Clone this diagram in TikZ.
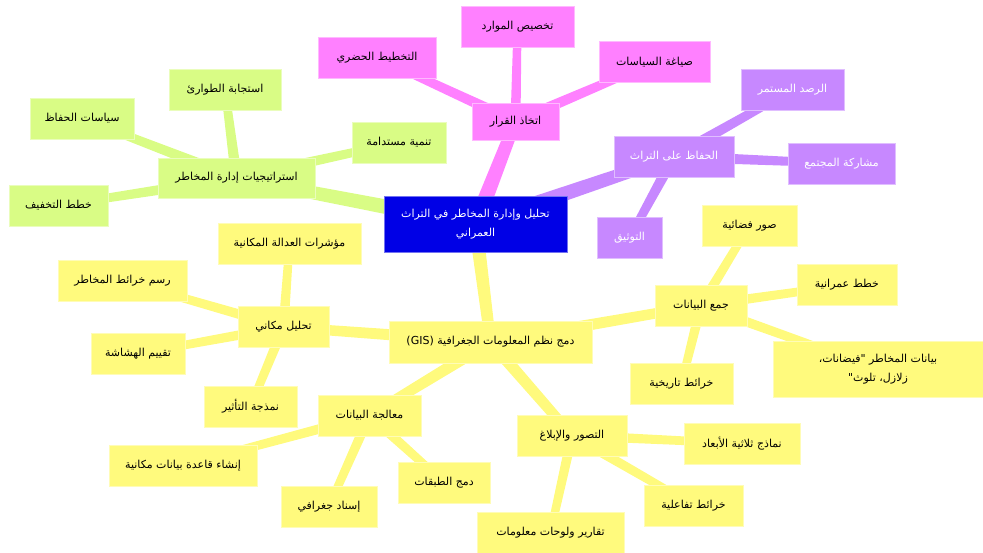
\documentclass[tikz,border=0pt]{standalone}
\usepackage{fontspec}
\newfontfamily\arabicfont[Script=Arabic]{DejaVu Sans}
\TeXXeTstate=1
\usetikzlibrary{calc, backgrounds}

\definecolor{rootblue}{HTML}{0000E6}
\definecolor{decpink}{HTML}{FF80FF}
\definecolor{conspurple}{HTML}{C788FF}
\definecolor{stratgreen}{HTML}{D9FC85}
\definecolor{gisyellow}{HTML}{FFFA7D}

\newcommand{\ar}[1]{\beginR #1\endR}
% tapered band: colour, from, to, half width at start, half width at end
\newcommand{\branch}[5]{%
  \fill[#1] ($(#2.center)!#4!90:(#3.center)$) -- ($(#3.center)!#5!-90:(#2.center)$)
    -- ($(#3.center)!#5!90:(#2.center)$) -- ($(#2.center)!#4!-90:(#3.center)$) -- cycle;}

\begin{document}
\begin{tikzpicture}[
  x=1pt, y=-1pt,
  box/.style={rectangle, draw=#1!55!white, fill=#1, line width=0.8pt, minimum height=41pt,
    inner sep=2pt, font=\arabicfont\fontsize{11}{18.5}\selectfont, align=center},
  lightbox/.style={box=#1, text=white}
]
  \useasboundingbox (0,0) rectangle (983,553);

  % Root
  \node[lightbox=rootblue, minimum width=183pt, minimum height=56pt] (root) at (475.5,224)
    {\ar{تحليل وإدارة المخاطر في التراث}\\\ar{العمراني}};

  % Decision making
  \node[box=decpink, minimum width=87pt, minimum height=37pt] (dec) at (515.5,121.5) {\ar{اتخاذ القرار}};
  \node[box=decpink, minimum width=113pt] (res) at (517.5,26.5) {\ar{تخصيص الموارد}};
  \node[box=decpink, minimum width=118pt] (urb) at (377,57.5) {\ar{التخطيط الحضري}};
  \node[box=decpink, minimum width=111pt] (pol) at (654.5,62) {\ar{صياغة السياسات}};

  % Heritage conservation
  \node[lightbox=conspurple, minimum width=120pt] (cons) at (674,156.5) {\ar{الحفاظ على التراث}};
  \node[lightbox=conspurple, minimum width=103pt] (mon) at (792.5,89.5) {\ar{الرصد المستمر}};
  \node[lightbox=conspurple, minimum width=107pt] (com) at (841.5,163.5) {\ar{مشاركة المجتمع}};
  \node[lightbox=conspurple, minimum width=65pt] (doc) at (629.5,238) {\ar{التوثيق}};

  % Risk management strategies
  \node[box=stratgreen, minimum width=157pt, minimum height=40pt] (strat) at (236.5,178) {\ar{استراتيجيات إدارة المخاطر}};
  \node[box=stratgreen, minimum width=112pt] (emer) at (225,89.5) {\ar{استجابة الطوارئ}};
  \node[box=stratgreen, minimum width=104pt] (cpol) at (82,118.5) {\ar{سياسات الحفاظ}};
  \node[box=stratgreen, minimum width=94pt] (sust) at (399,142.5) {\ar{تنمية مستدامة}};
  \node[box=stratgreen, minimum width=99pt] (miti) at (58.5,205.5) {\ar{خطط التخفيف}};

  % GIS integration
  \node[box=gisyellow, minimum width=203pt, minimum height=42pt] (gis) at (490.5,342)
    {\ar{دمج نظم المعلومات الجغرافية \beginL(GIS)\endL}};

  \node[box=gisyellow, minimum width=92pt] (coll) at (701,305.5) {\ar{جمع البيانات}};
  \node[box=gisyellow, minimum width=95pt] (sat) at (749.5,225.5) {\ar{صور فضائية}};
  \node[box=gisyellow, minimum width=100pt] (plan) at (847,285) {\ar{خطط عمرانية}};
  \node[box=gisyellow, minimum width=210pt, minimum height=56pt] (hazd) at (878,369)
    {\ar{بيانات المخاطر "فيضانات،}\\\ar{زلازل، تلوث"}};
  \node[box=gisyellow, minimum width=103pt] (hist) at (681.5,383.5) {\ar{خرائط تاريخية}};

  \node[box=gisyellow, minimum width=91pt] (spat) at (283.5,327) {\ar{تحليل مكاني}};
  \node[box=gisyellow, minimum width=143pt] (just) at (289.5,243.5) {\ar{مؤشرات العدالة المكانية}};
  \node[box=gisyellow, minimum width=129pt] (riskmap) at (122.5,280.5) {\ar{رسم خرائط المخاطر}};
  \node[box=gisyellow, minimum width=94pt] (vuln) at (138,353.5) {\ar{تقييم الهشاشة}};
  \node[box=gisyellow, minimum width=93pt] (impact) at (250.5,406.5) {\ar{نمذجة التأثير}};

  \node[box=gisyellow, minimum width=103pt] (proc) at (369.5,415.5) {\ar{معالجة البيانات}};
  \node[box=gisyellow, minimum width=148pt] (sdb) at (183,465.5) {\ar{إنشاء قاعدة بيانات مكانية}};
  \node[box=gisyellow, minimum width=96pt] (geo) at (329,506.5) {\ar{إسناد جغرافي}};
  \node[box=gisyellow, minimum width=92pt] (layer) at (444,482.5) {\ar{دمج الطبقات}};

  \node[box=gisyellow, minimum width=110pt] (vis) at (572,435.5) {\ar{التصور والإبلاغ}};
  \node[box=gisyellow, minimum width=116pt] (td) at (742,443.5) {\ar{نماذج ثلاثية الأبعاد}};
  \node[box=gisyellow, minimum width=99pt] (inter) at (693.5,505.5) {\ar{خرائط تفاعلية}};
  \node[box=gisyellow, minimum width=147pt] (dash) at (550.5,532.5) {\ar{تقارير ولوحات معلومات}};

  % Branches
  \begin{scope}[on background layer]
    \branch{decpink}{root}{dec}{8pt}{6pt}
    \branch{conspurple}{root}{cons}{8pt}{6pt}
    \branch{stratgreen}{root}{strat}{8pt}{6pt}
    \branch{gisyellow}{root}{gis}{7pt}{5.5pt}

    \branch{decpink}{dec}{res}{5pt}{4pt}
    \branch{decpink}{dec}{urb}{5.5pt}{4pt}
    \branch{decpink}{dec}{pol}{5.5pt}{4pt}

    \branch{conspurple}{cons}{mon}{5.5pt}{4pt}
    \branch{conspurple}{cons}{com}{5.5pt}{4pt}
    \branch{conspurple}{cons}{doc}{5.5pt}{4pt}

    \branch{stratgreen}{strat}{emer}{5.5pt}{4pt}
    \branch{stratgreen}{strat}{cpol}{5.5pt}{4pt}
    \branch{stratgreen}{strat}{sust}{5.5pt}{4pt}
    \branch{stratgreen}{strat}{miti}{5.5pt}{4pt}

    \branch{gisyellow}{gis}{coll}{6pt}{5pt}
    \branch{gisyellow}{gis}{spat}{6pt}{5pt}
    \branch{gisyellow}{gis}{proc}{6pt}{5pt}
    \branch{gisyellow}{gis}{vis}{6pt}{5pt}

    \branch{gisyellow}{coll}{sat}{5pt}{4pt}
    \branch{gisyellow}{coll}{plan}{5pt}{4pt}
    \branch{gisyellow}{coll}{hazd}{5pt}{4pt}
    \branch{gisyellow}{coll}{hist}{5pt}{4pt}

    \branch{gisyellow}{spat}{just}{5pt}{4pt}
    \branch{gisyellow}{spat}{riskmap}{5pt}{4pt}
    \branch{gisyellow}{spat}{vuln}{5pt}{4pt}
    \branch{gisyellow}{spat}{impact}{5pt}{4pt}

    \branch{gisyellow}{proc}{sdb}{5pt}{4pt}
    \branch{gisyellow}{proc}{geo}{5pt}{4pt}
    \branch{gisyellow}{proc}{layer}{5pt}{4pt}

    \branch{gisyellow}{vis}{td}{5pt}{4pt}
    \branch{gisyellow}{vis}{inter}{5pt}{4pt}
    \branch{gisyellow}{vis}{dash}{5pt}{4pt}
  \end{scope}

\end{tikzpicture}
\end{document}
